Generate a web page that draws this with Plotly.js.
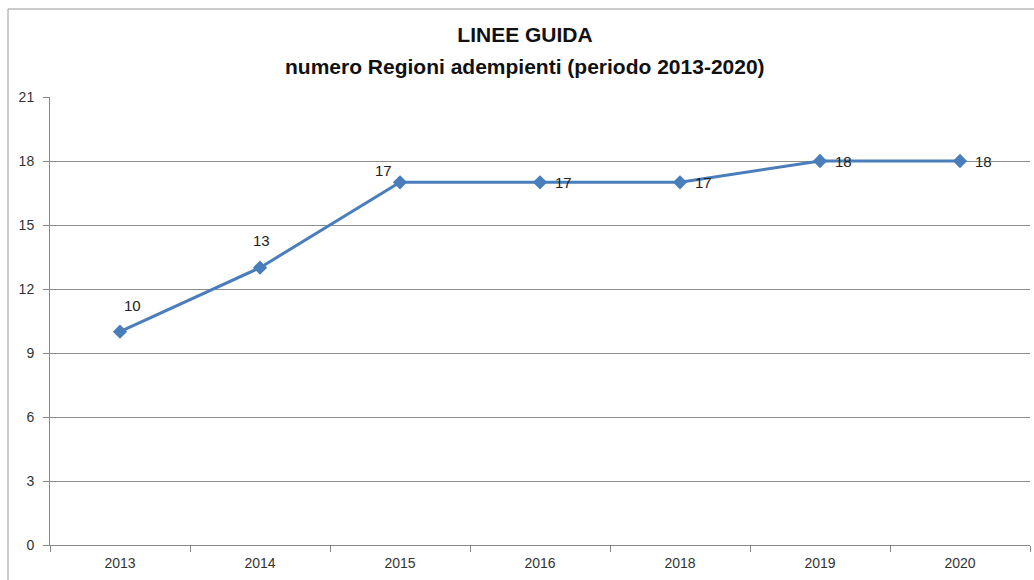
<!DOCTYPE html>
<html>
<head>
<meta charset="utf-8">
<script src="https://cdn.plot.ly/plotly-3.0.1.min.js"></script>
<style>html,body{margin:0;padding:0;background:#fff;}#chart{width:1034px;height:580px;}</style>
</head>
<body>
<div id="chart"></div>
<script>
const years = ["2013", "2014", "2015", "2016", "2018", "2019", "2020"];
const regioni = [10, 13, 17, 17, 17, 18, 18];
const yTicks = [0, 3, 6, 9, 12, 15, 18, 21];
const titleLine1 = "LINEE GUIDA";
const titleLine2 = "numero Regioni adempienti (periodo 2013-2020)";
// label offsets in pixels relative to each point (style only)
const labelDx = [12, 1, -17, 13, 13, 13, 13];
const labelDy = [26, 27, 12, 0, 0, 0, 0];
const labelAnchor = ["center", "center", "center", "left", "left", "left", "left"];

const FONT = "Liberation Sans, Arial, sans-serif";

const trace = {
  x: years,
  y: regioni,
  type: "scatter",
  mode: "lines+markers",
  line: {color: "#4A7EBB", width: 3},
  marker: {symbol: "diamond", size: 11, color: "#4A7EBB"},
  cliponaxis: false,
  hoverinfo: "x+y"
};

const annotations = years.map((yr, i) => ({
  x: i, y: regioni[i], xref: "x", yref: "y",
  text: String(regioni[i]),
  showarrow: false,
  xanchor: labelAnchor[i], yanchor: "middle",
  xshift: labelDx[i], yshift: labelDy[i],
  font: {family: FONT, size: 15, color: "#222"}
}));
annotations.push({
  text: titleLine2, showarrow: false,
  xref: "paper", yref: "paper",
  x: (525 - 50) / 980, y: (545 - 67) / 448,
  xanchor: "center", yanchor: "middle",
  font: {family: FONT, size: 21, color: "#111", weight: "bold"}
});

const layout = {
  width: 1034, height: 580,
  margin: {l: 50, r: 4, t: 97, b: 35},
  paper_bgcolor: "#fff", plot_bgcolor: "#fff",
  font: {family: FONT, size: 14, color: "#333"},
  showlegend: false,
  title: {
    text: titleLine1,
    font: {family: FONT, size: 21, color: "#111", weight: "bold"},
    x: 525 / 1034, xanchor: "center", xref: "container",
    y: 1 - 35/580, yanchor: "middle", yref: "container"
  },
  xaxis: {
    type: "category",
    categoryorder: "array", categoryarray: years,
    range: [-0.5, years.length - 0.5],
    showgrid: false,
    showline: true, linecolor: "#888", linewidth: 1,
    ticks: "outside", tickson: "boundaries", ticklen: 6, tickcolor: "#888",
    ticklabelstandoff: 5,
    tickfont: {family: FONT, size: 14, color: "#333"},
    fixedrange: true
  },
  yaxis: {
    range: [0, 21],
    tickvals: yTicks,
    showgrid: true, gridcolor: "#8c8c8c", gridwidth: 1,
    zeroline: false,
    showline: true, linecolor: "#888", linewidth: 1,
    ticks: "outside", ticklen: 6, tickcolor: "#888",
    ticklabelstandoff: 6,
    tickfont: {family: FONT, size: 14, color: "#333"},
    fixedrange: true
  },
  annotations: annotations,
  shapes: [{
    type: "rect", xref: "paper", yref: "paper",
    x0: (8 - 50) / 980, x1: 1.02, y0: -0.2, y1: (545 - 9) / 448,
    line: {color: "#999", width: 1}, fillcolor: "rgba(0,0,0,0)", layer: "below"
  }]
};

Plotly.newPlot("chart", [trace], layout, {displayModeBar: false});
</script>
</body>
</html>
